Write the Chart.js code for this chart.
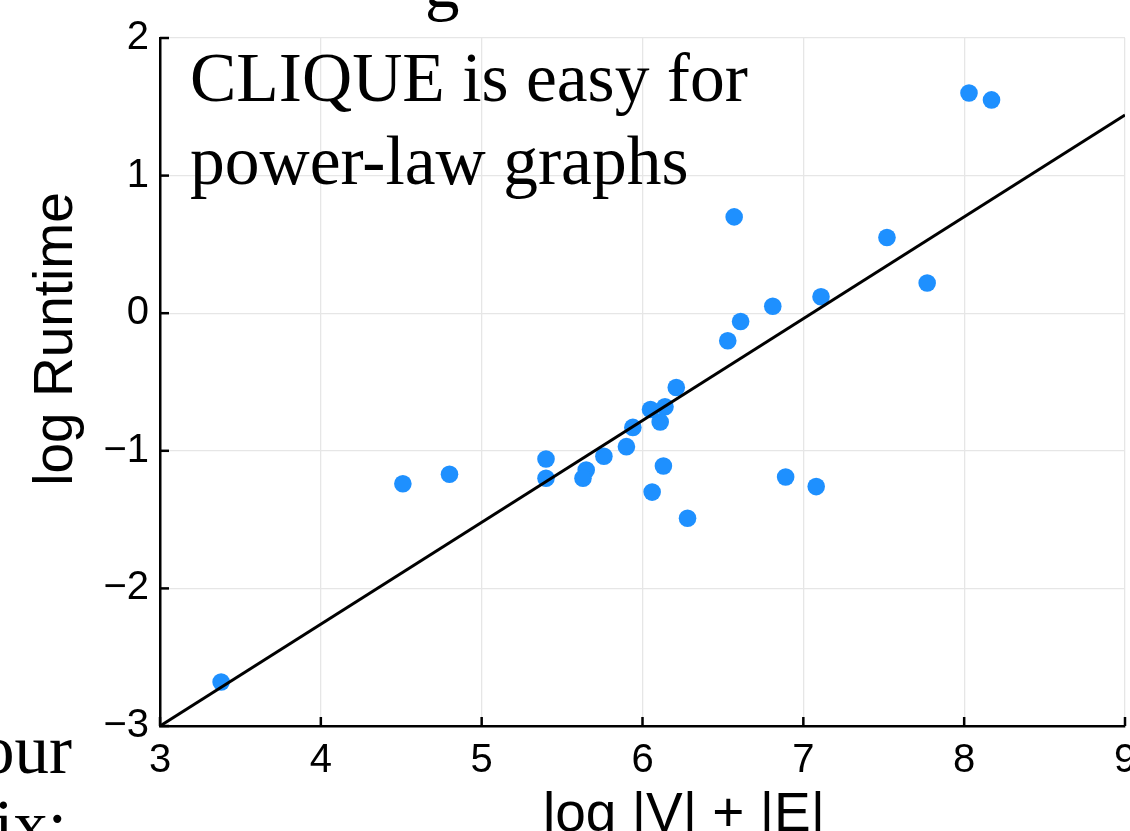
<!DOCTYPE html>
<html lang="en">
<head>
<meta charset="UTF-8">
<title>CLIQUE runtime vs graph size</title>
<style>
  html, body { margin: 0; padding: 0; background: #fff; overflow: hidden; }
  #wrap { position: relative; width: 1130px; height: 831px; overflow: hidden; }
  canvas { position: absolute; left: 0; top: 0; }
  .pagetext {
    position: absolute;
    font-family: "Liberation Serif", serif;
    font-size: 69px;
    line-height: 69px;
    color: #000;
    white-space: nowrap;
  }
</style>
</head>
<body>
<div id="wrap">
  <!-- canvas is a bit wider than the page so the last x label gets cut like in the figure -->
  <canvas id="myChart" width="1150" height="831"></canvas>
  <!-- bits of the surrounding page text that fall inside the crop -->
  <div class="pagetext" style="top:-50px; left:425px;">g</div>
  <div class="pagetext" style="top:716px; right:1058px;">our</div>
  <div class="pagetext" style="top:791px; right:1063px;">appendix:</div>
</div>

<script src="https://cdn.jsdelivr.net/npm/chart.js"></script>
<script>
  // one point per graph: log size vs log runtime
  const logSize = [3.38, 4.51, 4.80, 5.40, 5.40, 5.65, 5.63, 5.76, 5.90, 5.94,
                   6.05, 6.14, 6.11, 6.21, 6.13, 6.06, 6.28, 6.53, 6.61, 6.57,
                   6.81, 6.89, 7.08, 7.11, 7.52, 7.77, 8.03, 8.17];
  const logRuntime = [-2.68, -1.24, -1.17, -1.06, -1.20, -1.14, -1.20, -1.04, -0.97, -0.83,
                      -0.70, -0.68, -0.79, -0.54, -1.11, -1.30, -1.49, -0.20, -0.06, 0.70,
                      0.05, -1.19, -1.26, 0.12, 0.55, 0.22, 1.60, 1.55];

  // fitted line end points
  const fitX = [3, 9];
  const fitY = [-3, 1.44];

  const xTicks = [3, 4, 5, 6, 7, 8, 9];
  const yTicks = [-3, -2, -1, 0, 1, 2];

  const xTitle = 'log |V| + |E|';
  const yTitle = 'log Runtime';
  const note = ['CLIQUE is easy for', 'power-law graphs'];

  const sans = '"Liberation Sans", Arial, sans-serif';
  const serif = '"Liberation Serif", "Times New Roman", serif';

  function fmt(v) {
    return v < 0 ? '\u2212' + Math.abs(v) : String(v);
  }

  // inward tick marks, axis titles and the note inside the plot
  const extras = {
    id: 'extras',
    afterDraw(chart) {
      const ctx = chart.ctx;
      const xs = chart.scales.x;
      const ys = chart.scales.y;
      const a = chart.chartArea;
      ctx.save();
      ctx.strokeStyle = '#000';
      ctx.lineWidth = 2.5;
      xTicks.forEach(v => {
        const p = xs.getPixelForValue(v);
        ctx.beginPath();
        ctx.moveTo(p, a.bottom);
        ctx.lineTo(p, a.bottom - 9);
        ctx.stroke();
      });
      yTicks.forEach(v => {
        const p = ys.getPixelForValue(v);
        ctx.beginPath();
        ctx.moveTo(a.left, p);
        ctx.lineTo(a.left + 9, p);
        ctx.stroke();
      });

      ctx.fillStyle = '#000';
      ctx.font = '55px ' + sans;
      ctx.textAlign = 'center';
      ctx.textBaseline = 'alphabetic';
      ctx.fillText(xTitle, 684, 831);

      ctx.save();
      ctx.translate(72, 339);
      ctx.rotate(-Math.PI / 2);
      ctx.fillText(yTitle, 0, 0);
      ctx.restore();

      ctx.font = '69.5px ' + serif;
      ctx.textAlign = 'left';
      ctx.fillText(note[0], 190, 101);
      ctx.fillText(note[1], 190, 184);
      ctx.restore();
    }
  };

  const points = logSize.map((x, i) => ({ x: x, y: logRuntime[i] }));
  const fit = fitX.map((x, i) => ({ x: x, y: fitY[i] }));

  const ctx = document.getElementById('myChart').getContext('2d');
  const myChart = new Chart(ctx, {
    type: 'scatter',
    data: {
      datasets: [
        {
          label: 'fit',
          data: fit,
          showLine: true,
          borderColor: '#000',
          borderWidth: 3,
          pointRadius: 0,
          fill: false,
          order: 0
        },
        {
          label: 'graphs',
          data: points,
          pointRadius: 8.8,
          pointBackgroundColor: '#1E90FF',
          pointBorderWidth: 0,
          order: 1
        }
      ]
    },
    options: {
      responsive: false,
      animation: false,
      layout: { padding: { top: 38, right: 25, left: 0, bottom: 0 } },
      plugins: {
        legend: { display: false },
        tooltip: { enabled: false }
      },
      scales: {
        x: {
          type: 'linear',
          min: 3,
          max: 9,
          afterBuildTicks: s => { s.ticks = xTicks.map(v => ({ value: v })); },
          afterFit: s => { s.height = 105; },
          grid: { color: '#e6e6e6', lineWidth: 1.3, drawTicks: false },
          border: { color: '#000', width: 2.5 },
          ticks: {
            color: '#000',
            font: { family: sans, size: 40 },
            padding: 11,
            maxRotation: 0,
            autoSkip: false,
            callback: fmt
          }
        },
        y: {
          type: 'linear',
          min: -3,
          max: 2,
          afterBuildTicks: s => { s.ticks = yTicks.map(v => ({ value: v })); },
          afterFit: s => { s.width = 160; },
          grid: { color: '#e6e6e6', lineWidth: 1.3, drawTicks: false },
          border: { color: '#000', width: 2.5 },
          ticks: {
            color: '#000',
            font: { family: sans, size: 40 },
            padding: 11,
            autoSkip: false,
            callback: fmt
          }
        }
      }
    },
    plugins: [extras]
  });
</script>
</body>
</html>
